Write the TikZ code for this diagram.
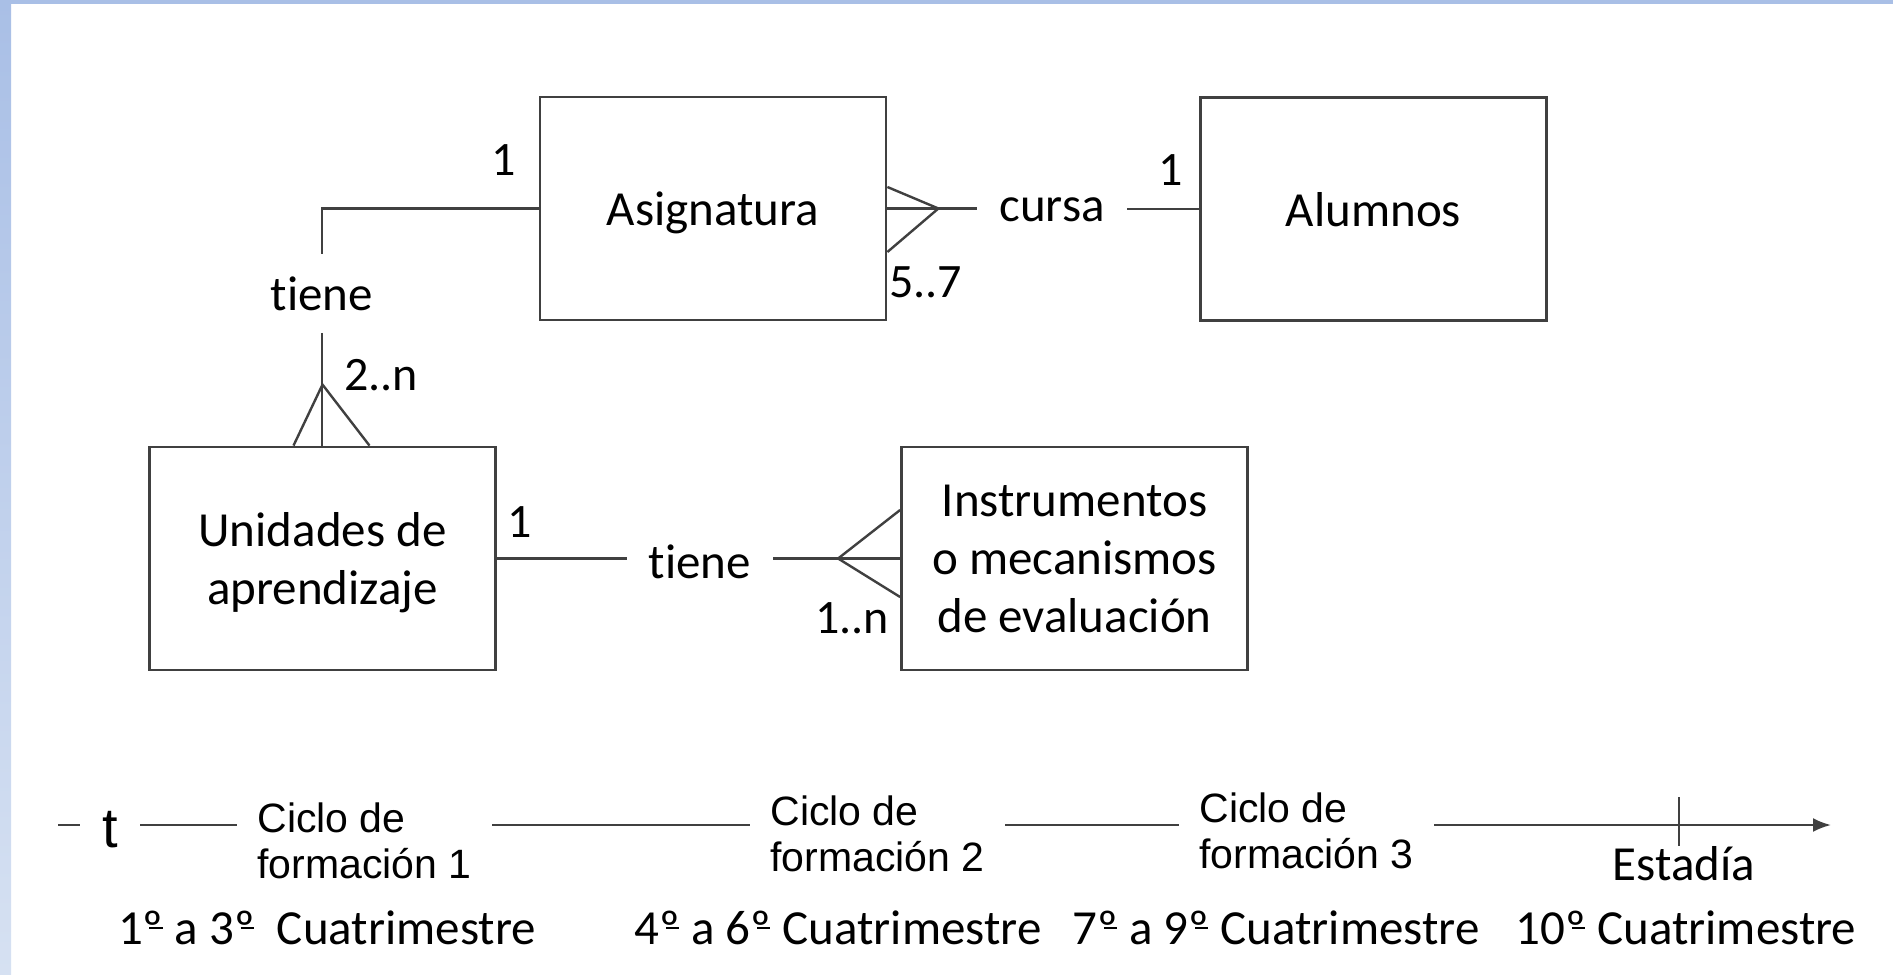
\documentclass[tikz,border=0pt]{standalone}
\usepackage{fontspec}
\setmainfont{Carlito}[Ligatures=NoCommon]
\newfontfamily\arialf{Liberation Sans}
\usetikzlibrary{arrows.meta}

\definecolor{borde}{HTML}{404040}
\definecolor{marco}{HTML}{A9BFE6}
\definecolor{marcob}{HTML}{D6E1F2}

% ordinal con raya, como en el original
\newcommand{\ordo}{º\llap{\rule[0.3em]{0.27em}{0.045em}\hspace{0.02em}}}

\tikzset{
	entidad/.style={draw=borde, line width=1.4pt, minimum width=173pt, minimum height=111.5pt, inner sep=0pt, text depth=0pt, align=center, font=\fontsize{24.5}{29}\selectfont},
	relacion/.style={inner sep=11pt, font=\fontsize{24.5}{29}\selectfont},
	card/.style={inner sep=0pt, font=\fontsize{24}{28}\selectfont},
	linea/.style={draw=borde, line width=1.2pt},
	ciclo/.style={inner xsep=10pt, inner ysep=0pt, align=left, font=\arialf\fontsize{20.5}{23}\selectfont},
	cuatri/.style={inner sep=0pt, font=\fontsize{24.5}{29}\selectfont}
}

\begin{document}
\begin{tikzpicture}[x=0.5pt,y=-0.5pt]
	% fondo
	\useasboundingbox (0,0) rectangle (1893,974);
	\fill[white] (0,0) rectangle (1893,974);
	\shade[top color=marco, bottom color=marcob] (0,0) rectangle (11,974);
	\fill[marco] (0,0) rectangle (1893,4);

	% entidades
	\node[entidad] (asig) at (713,208.5) {Asignatura};
	\node[entidad] (alum) at (1373.5,209) {Alumnos};
	\node[entidad] (unid) at (322.5,558.5) {Unidades de\\aprendizaje};
	\node[entidad] (instr) at (1074.5,558.5) {Instrumentos\\o mecanismos\\de evaluación};

	% relaciones
	\node[relacion, anchor=base] (tieneA) at (322,310) {tiene};
	\node[relacion, anchor=base] (cursa) at (1052,221) {cursa};
	\node[relacion, anchor=base] (tieneB) at (700,578) {tiene};

	% cardinalidades
	\node[card, anchor=base] (cA) at (504,175) {1};
	\node[card, anchor=base west] (cB) at (344,390) {2..n};
	\node[card, anchor=base west] (cC) at (889,297) {5..7};
	\node[card, anchor=base] (cD) at (1171,185) {1};
	\node[card, anchor=base] (cE) at (520,537) {1};
	\node[card, anchor=base] (cF) at (852,633) {1..n};

	% conectores
	\draw[linea] (asig.west) -| (tieneA.north);
	\draw[linea] (tieneA.south) -- (tieneA.south |- unid.north);
	\draw[linea] ([xshift=-14.5pt]unid.north) -- ([yshift=30.5pt]unid.north) -- ([xshift=23.5pt]unid.north);
	\draw[linea] (asig.east) -- (asig.east -| cursa.west);
	\draw[linea] ([yshift=10.75pt]asig.east) -- ([xshift=25.5pt]asig.east) -- ([yshift=-21.75pt]asig.east);
	\draw[linea] (cursa.east |- alum.west) -- (alum.west);
	\draw[linea] (unid.east) -- (unid.east -| tieneB.west);
	\draw[linea] (tieneB.east |- instr.west) -- (instr.west);
	\draw[linea] ([yshift=24.25pt]instr.west) -- ([xshift=-31pt]instr.west) -- ([yshift=-19.25pt]instr.west);

	% linea del tiempo
	\coordinate (inicio) at (58,825);
	\coordinate (fin) at (1831,825);
	\node[anchor=base, inner xsep=11pt, inner ysep=0pt, font=\arialf\fontsize{28}{32}\selectfont] (t) at (110,847) {t};
	\node[ciclo, anchor=base west] (c1) at (237,878) {Ciclo de\\formación 1};
	\node[ciclo, anchor=base west] (c2) at (750,871) {Ciclo de\\formación 2};
	\node[ciclo, anchor=base west] (c3) at (1179,868) {Ciclo de\\formación 3};
	\node[cuatri, anchor=base] (est) at (1684,880) {Estadía};
	\coordinate (marca) at (1679,797);

	\draw[linea] (inicio) -- (inicio -| t.west);
	\draw[linea] (t.east |- inicio) -- (c1.west |- inicio);
	\draw[linea] (c1.east |- inicio) -- (c2.west |- inicio);
	\draw[linea] (c2.east |- inicio) -- (c3.west |- inicio);
	\draw[linea, -{Latex[length=9pt,width=7pt]}] (c3.east |- inicio) -- (fin);
	\draw[linea] (marca) -- (marca |- est.north);

	% cuatrimestres
	\node[cuatri, anchor=base] (q1) at (327,944) {1\ordo{} a 3\ordo\ \ Cuatrimestre};
	\node[cuatri, anchor=base] (q2) at (838,944) {4\ordo{} a 6\ordo{} Cuatrimestre};
	\node[cuatri, anchor=base] (q3) at (1276,944) {7\ordo{} a 9\ordo{} Cuatrimestre};
	\node[cuatri, anchor=base] (q4) at (1686,944) {10\ordo{} Cuatrimestre};
\end{tikzpicture}
\end{document}
